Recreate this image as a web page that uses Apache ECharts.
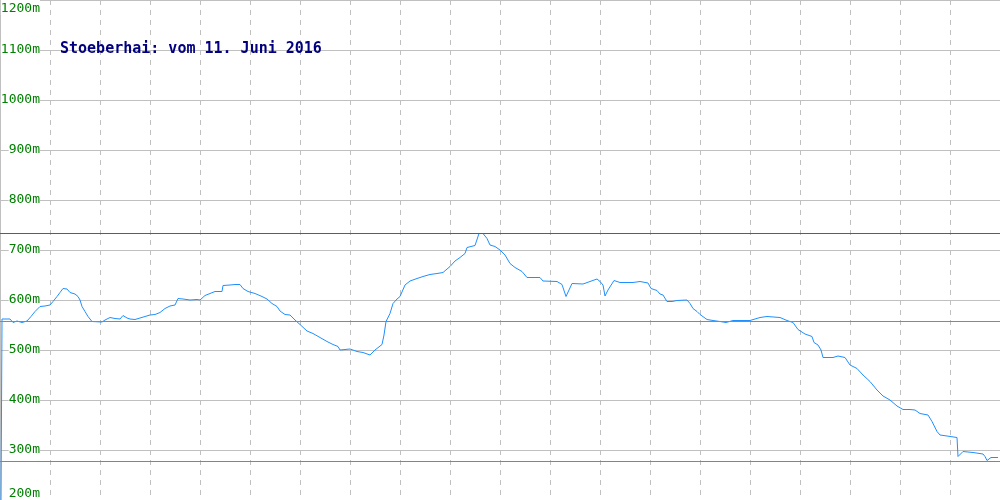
<!DOCTYPE html>
<html><head><meta charset="utf-8">
<script src="https://cdn.jsdelivr.net/npm/echarts@6/dist/echarts.min.js"></script>
<style>html,body{margin:0;padding:0;background:#fff}#c{width:1000px;height:500px}</style>
</head><body><div id="c"></div>
<script>
const titleText = 'Stoeberhai: vom 11. Juni 2016';
const positions = [1,2,10,13,17,22,27,31,35,40,45,50,53,57,60,63,67,70,75,78,80,82,85,88,92,102,105,110,115,120,123,127,130,135,140,145,150,155,160,165,170,175,178,183,190,197,200,205,210,215,222,223,230,235,240,243,248,255,262,267,272,277,280,285,290,295,300,307,313,320,327,333,338,340,350,357,363,370,375,382,384,386,390,393,397,400,405,410,417,423,430,437,443,450,455,460,465,467,475,477,479,483,487,490,495,500,505,510,515,522,527,540,543,557,562,566,572,583,590,597,600,603,605,608,614,620,633,640,648,651,657,660,663,667,672,677,687,690,693,697,700,707,713,720,726,733,750,760,767,780,787,793,798,800,805,812,814,818,821,823,833,838,845,850,857,863,870,877,883,890,897,903,910,915,920,928,932,937,940,947,957,958,960,963,973,983,985,987,989,991,998];
const altitudes = [200,562,562,555,558,555,558,567,577,587,588,590,597,607,615,623,622,615,612,607,600,587,577,567,557,556,560,565,563,562,569,564,562,561,564,567,570,571,575,583,588,590,603,602,600,601,600,609,613,617,617,629,630,631,631,623,617,613,607,602,593,587,578,571,570,560,551,538,533,525,517,511,507,500,502,497,495,490,500,511,530,557,573,593,602,607,630,638,643,647,651,653,655,667,678,685,693,705,709,713,733,733,723,710,707,700,690,673,665,657,645,645,638,637,631,607,633,632,637,642,637,630,608,620,639,635,635,637,634,623,619,612,610,597,597,599,600,593,583,577,571,561,559,557,555,559,559,565,567,565,559,555,541,537,532,527,515,510,500,485,485,488,485,470,463,450,437,420,408,400,388,381,381,380,373,370,357,337,330,328,325,287,287,297,295,292,287,279,279,285,285];
const maxLevel = 734;
const avgLevel = 558;
const minLevel = 278;
const yTicks = [200,300,400,500,600,700,800,900,1000,1100,1200];

const chart = echarts.init(document.getElementById('c'), null, {renderer:'canvas'});
chart.setOption({
  animation:false,
  backgroundColor:'#fff',
  title:{text:titleText,left:55,top:37,textStyle:{fontFamily:'DejaVu Sans Mono',fontSize:15,fontWeight:'bold',color:'#000080'}},
  grid:{left:0,right:0,top:0,bottom:0,containLabel:false,outerBoundsMode:'none'},
  xAxis:{type:'value',min:0,max:1000,interval:50,
    axisLine:{show:false},axisTick:{show:false},axisLabel:{show:false},
    splitLine:{show:true,showMinLine:false,showMaxLine:false,lineStyle:{color:'#c0c0c0',type:[5,5],width:1}}},
  yAxis:{type:'value',min:yTicks[0],max:yTicks[yTicks.length-1],interval:100,
    axisLine:{show:true,lineStyle:{color:'#c0c0c0'}},axisTick:{show:false},
    splitLine:{show:true,lineStyle:{color:'#c0c0c0',width:1}},
    axisLabel:{inside:true,margin:40,align:'right',fontFamily:'DejaVu Sans Mono',fontSize:13,color:'#008000',
      backgroundColor:'#fff',
      formatter:function(v){ if(v===1200) return '{t|'+v+'m}'; if(v===200) return '{b|'+v+'m}'; return '{n|'+v+'m}'; },
      rich:{
        t:{fontFamily:'DejaVu Sans Mono',fontSize:13,color:'#008000',padding:[17,0,0,0]},
        b:{fontFamily:'DejaVu Sans Mono',fontSize:13,color:'#008000',padding:[0,0,13,0]},
        n:{fontFamily:'DejaVu Sans Mono',fontSize:13,color:'#008000'}
      }}},
  series:[{type:'line',data:positions.map((p,i)=>[p,altitudes[i]]),showSymbol:false,
    lineStyle:{color:'#1e90ff',width:1},
    markLine:{silent:true,symbol:'none',label:{show:false},
      data:[
        {yAxis:maxLevel,lineStyle:{color:'#2e7d32',type:'solid',width:1}},
        {yAxis:avgLevel,lineStyle:{color:'#3cb371',type:'solid',width:1}},
        {yAxis:minLevel,lineStyle:{color:'#20b2aa',type:'solid',width:1}}
      ]}}]
});
</script></body></html>
